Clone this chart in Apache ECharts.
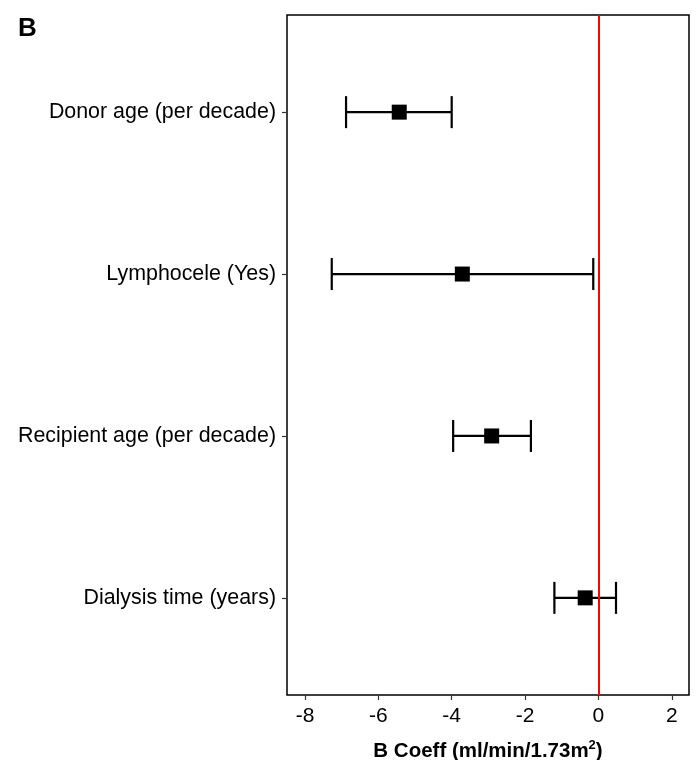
<!DOCTYPE html>
<html>
<head>
<meta charset="utf-8">
<script src="https://cdn.jsdelivr.net/npm/echarts@6/dist/echarts.min.js"></script>
<style>html,body{margin:0;padding:0;background:#fff;}#c{width:700px;height:760px;}</style>
</head>
<body>
<div id="c"></div>
<script>
// Data (bottom to top)
var categories = ['Dialysis time (years)', 'Recipient age (per decade)', 'Lymphocele (Yes)', 'Donor age (per decade)'];
var estimates = [-0.36, -2.91, -3.71, -5.43];
var lower = [-1.2, -3.96, -7.27, -6.88];
var upper = [0.48, -1.84, -0.14, -4.0];
var xTicks = [-8, -6, -4, -2, 0, 2];

var chart = echarts.init(document.getElementById('c'), null, {renderer: 'canvas'});
var positions = categories.map(function (_, i) { return i + 1; });
var FONT = 'Liberation Sans, Arial, sans-serif';

var errData = categories.map(function (_, i) { return [lower[i], upper[i], i + 1]; });
var pointData = categories.map(function (_, i) { return [estimates[i], i + 1]; });

chart.setOption({
  animation: false,
  backgroundColor: '#fff',
  title: {
    text: 'B', left: 13, top: 11,
    textStyle: {fontFamily: FONT, fontSize: 26, fontWeight: 'bold', color: '#000'}
  },
  grid: {left: 287, right: 11, top: 15, bottom: 65, show: true, borderColor: '#000', borderWidth: 1.5, containLabel: false, outerBoundsMode: 'none'},
  xAxis: {
    type: 'value', min: -8.49, max: 2.47,
    axisLine: {show: false, onZero: false},
    splitLine: {show: false},
    axisTick: {show: true, length: 5, lineStyle: {color: '#333', width: 1.2}, customValues: xTicks},
    axisLabel: {customValues: xTicks, fontFamily: FONT, fontSize: 21, color: '#000', margin: 11},
    name: 'B Coeff (ml/min/1.73m{sup|2})',
    nameLocation: 'middle', nameGap: 44,
    nameTextStyle: {fontFamily: FONT, fontSize: 20.5, fontWeight: 'bold', color: '#000',
      rich: {sup: {fontSize: 13, fontWeight: 'bold', fontFamily: FONT, verticalAlign: 'top', padding: [0, 0, 12, 0], color: '#000'}}}
  },
  yAxis: {
    type: 'value', min: 0.4, max: 4.6,
    axisLine: {show: false, onZero: false},
    splitLine: {show: false},
    axisTick: {show: true, length: 5, lineStyle: {color: '#333', width: 1.2}, customValues: positions},
    axisLabel: {
      customValues: positions, fontFamily: FONT, fontSize: 21.4, color: '#000', margin: 11,
      formatter: function (v) { return categories[Math.round(v) - 1] || ''; }
    }
  },
  series: [
    {
      type: 'custom',
      data: errData,
      z: 3,
      renderItem: function (params, api) {
        var y = api.value(2);
        var p1 = api.coord([api.value(0), y]);
        var p2 = api.coord([api.value(1), y]);
        var h = 16;
        var style = {stroke: '#000', lineWidth: 2.2};
        return {
          type: 'group',
          children: [
            {type: 'line', shape: {x1: p1[0], y1: p1[1], x2: p2[0], y2: p2[1]}, style: style},
            {type: 'line', shape: {x1: p1[0], y1: p1[1] - h, x2: p1[0], y2: p1[1] + h}, style: style},
            {type: 'line', shape: {x1: p2[0], y1: p2[1] - h, x2: p2[0], y2: p2[1] + h}, style: style}
          ]
        };
      },
      markLine: {
        silent: true, symbol: 'none', label: {show: false},
        lineStyle: {color: '#ff0000', width: 2, type: 'solid'},
        data: [{xAxis: 0}]
      }
    },
    {
      type: 'scatter',
      data: pointData,
      symbol: 'rect',
      symbolSize: 15,
      itemStyle: {color: '#000', opacity: 1},
      z: 4
    }
  ]
});
</script>
</body>
</html>
